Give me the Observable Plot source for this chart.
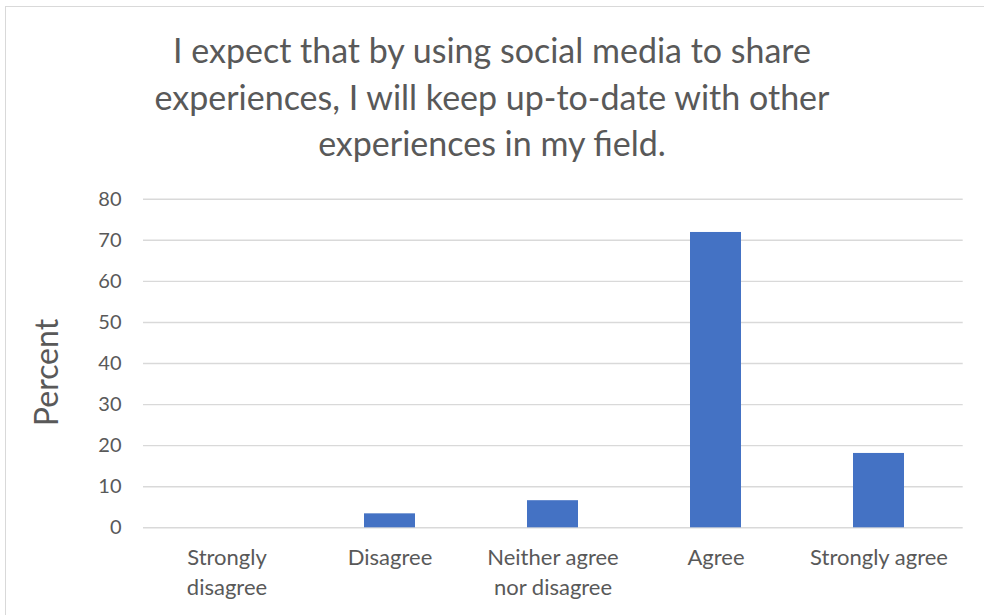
<!DOCTYPE html>
<html>
<head>
<meta charset="utf-8">
<script src="https://cdn.jsdelivr.net/npm/d3@7"></script>
<script src="https://cdn.jsdelivr.net/npm/@observablehq/plot@0.6"></script>
<style>
  html, body { margin: 0; padding: 0; background: #fff; }
  #wrap { position: relative; width: 984px; height: 615px; overflow: hidden; font-family: Lato, "Open Sans", sans-serif; }
  #frame { position: absolute; left: 5px; top: 6px; width: 990px; height: 620px; border: 1.5px solid #d9d9d9; box-sizing: border-box; }
  #title { position: absolute; left: 0; top: 27px; width: 984px; text-align: center; color: #595959; font-size: 34px; line-height: 46.5px; }
  #chart { position: absolute; left: 0; top: 175px; }
</style>
</head>
<body>
<div id="wrap">
  <div id="frame"></div>
  <div id="title">I expect that by using social media to share<br>experiences, I will keep up-to-date with other<br>experiences in my field.</div>
  <div id="chart"></div>
</div>
<script>
const categories = ["Strongly disagree", "Disagree", "Neither agree nor disagree", "Agree", "Strongly agree"];
const tickLabels = ["Strongly\ndisagree", "Disagree", "Neither agree\nnor disagree", "Agree", "Strongly agree"];
const percents = [0, 3.4, 6.6, 71.9, 18.1];
const yTicks = [0, 10, 20, 30, 40, 50, 60, 70, 80];
const yLabel = "Percent";

const data = categories.map((c, i) => ({category: c, value: percents[i]}));
const labelOf = new Map(categories.map((c, i) => [c, tickLabels[i]]));

const chart = Plot.plot({
  width: 984,
  height: 440,
  marginTop: 23.7,
  marginBottom: 87.7,
  marginLeft: 143,
  marginRight: 21.3,
  style: {fontFamily: "Lato, 'Open Sans', sans-serif", color: "#595959", background: "transparent"},
  x: {domain: categories, paddingInner: 0.687, paddingOuter: 0.3435, align: 0.5},
  y: {domain: [0, 80]},
  marks: [
    Plot.gridY(yTicks, {stroke: "#d9d9d9", strokeOpacity: 1, strokeWidth: 1.4}),
    Plot.barY(data, {x: "category", y: "value", fill: "#4472C4"}),
    Plot.axisY(yTicks, {tickSize: 0, tickPadding: 22, fontSize: 20, fill: "#595959", label: null}),
    Plot.axisX({tickSize: 0, tickPadding: 16, fontSize: 22, fill: "#595959", lineHeight: 1.36, tickFormat: d => labelOf.get(d), label: null}),
    Plot.text([yLabel], {frameAnchor: "left", textAnchor: "middle", rotate: -90, dx: -96, dy: 9, fontSize: 32, fill: "#595959"})
  ]
});
document.getElementById("chart").appendChild(chart);
</script>
</body>
</html>
